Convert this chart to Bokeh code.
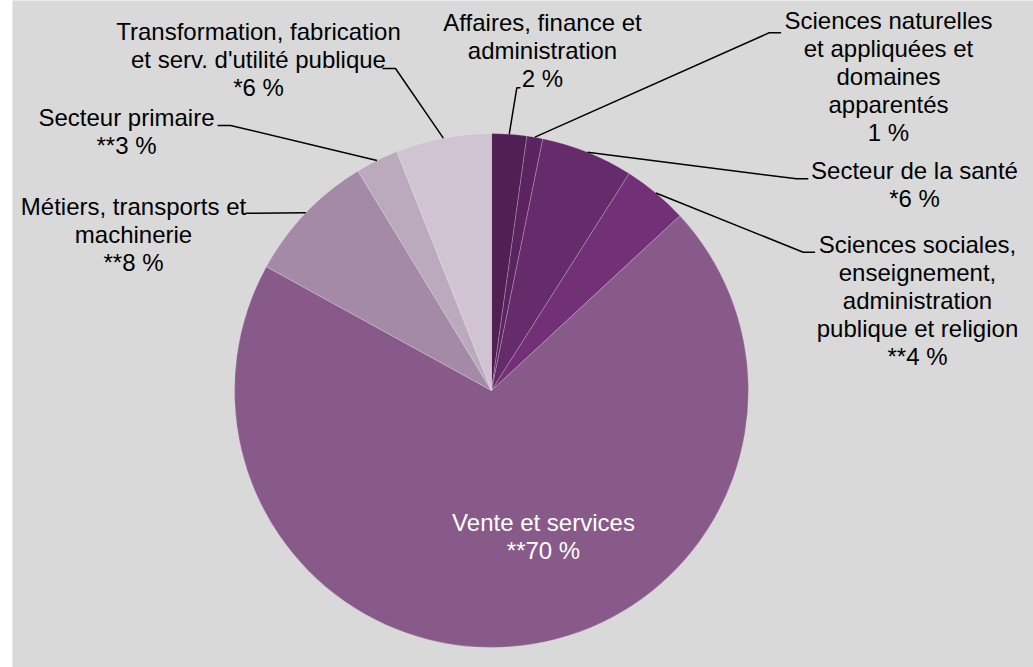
import math
from bokeh.plotting import figure
from bokeh.models import Range1d, ColumnDataSource
from bokeh.core.properties import value
from bokeh.embed import file_html
from bokeh.resources import INLINE

# ---- data ----
categories = [
    "Affaires, finance et\nadministration",
    "Sciences naturelles\net appliquées et\ndomaines\napparentés",
    "Secteur de la santé",
    "Sciences sociales,\nenseignement,\nadministration\npublique et religion",
    "Vente et services",
    "Métiers, transports et\nmachinerie",
    "Secteur primaire",
    "Transformation, fabrication\net serv. d'utilité publique",
]
shares = [2.2, 1.0, 5.8, 4.1, 69.9, 8.3, 2.7, 6.0]
pct_labels = ["2 %", "1 %", "*6 %", "**4 %", "**70 %", "**8 %", "**3 %", "*6 %"]

# ---- style / layout ----
colors = ["#511f53", "#5b2460", "#662b6a", "#723176", "#885a89",
          "#a58aa7", "#bba9bd", "#d0c4d2"]
cx, cy, R = 491, -390, 257
label_xy = [(542, -50), (888, -76), (914, -184), (917, -300),
            (543, -536), (133, -234), (126, -131), (258, -59)]
label_color = ["black"] * 4 + ["white"] + ["black"] * 3
# elbow points of leader lines (None = no leader)
elbows = [
    [(516.3, -87.3), (520, -87.3)],
    [(768.7, -32.3), (780.6, -32.3)],
    [(796, -178.3), (807.8, -178.3)],
    [(802.7, -251.7), (814.6, -251.7)],
    None,
    [(245, -212.7)],
    [(230, -125), (217, -125)],
    [(395, -68), (382, -68)],
]

total = sum(shares)
starts, ends, mids = [], [], []
cum = 0.0
for s in shares:
    a0 = cum / total
    cum += s
    a1 = cum / total
    starts.append(math.pi / 2 - 2 * math.pi * a1)
    ends.append(math.pi / 2 - 2 * math.pi * a0)
    mids.append(2 * math.pi * (a0 + a1) / 2)

p = figure(width=1033, height=667, output_backend="svg", toolbar_location=None,
           x_range=Range1d(12, 1033), y_range=Range1d(-667, 0),
           x_axis_type=None, y_axis_type=None,
           min_border_left=12, min_border_right=0, min_border_top=0, min_border_bottom=0)
p.grid.visible = False
p.outline_line_color = None
p.background_fill_color = "#d9d9d9"
p.border_fill_color = "white"

src = ColumnDataSource(dict(start=starts, end=ends, color=colors))
p.wedge(x=cx, y=cy, radius=R, start_angle="start", end_angle="end",
        fill_color="color", line_color="white", line_alpha=0.35, line_width=0.6,
        source=src)

# leader lines
for i, el in enumerate(elbows):
    if el is None:
        continue
    ex = cx + R * math.sin(mids[i])
    ey = cy + R * math.cos(mids[i])
    xs = [ex] + [pt[0] for pt in el]
    ys = [ey] + [pt[1] for pt in el]
    p.line(xs, ys, line_color="black", line_width=1.5)

texts = [c + "\n" + l for c, l in zip(categories, pct_labels)]
tsrc = ColumnDataSource(dict(x=[q[0] for q in label_xy], y=[q[1] for q in label_xy],
                             t=texts, c=label_color))
p.text(x="x", y="y", text="t", text_color="c", source=tsrc,
       text_align="center", text_baseline="middle",
       text_font=value("Liberation Sans"), text_font_size="24px",
       text_line_height=1.04)

open("out.html", "w").write(file_html(p, INLINE))
